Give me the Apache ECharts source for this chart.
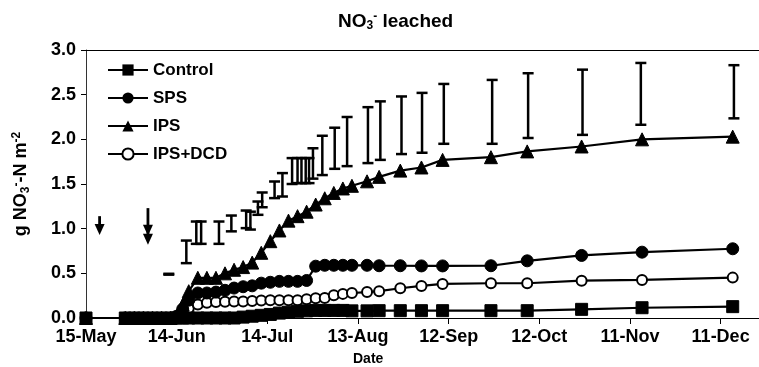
<!DOCTYPE html>
<html>
<head>
<meta charset="utf-8">
<script src="https://cdn.jsdelivr.net/npm/echarts@6/dist/echarts.min.js"></script>
<style>
html,body{margin:0;padding:0;background:#fff;}
#chart{width:759px;height:367px;}
</style>
</head>
<body>
<div id="chart"></div>
<script>
// Days after 15-May
const xTickLabels = ['15-May','14-Jun','14-Jul','13-Aug','12-Sep','12-Oct','11-Nov','11-Dec'];
const yTickLabels = ['0.0','0.5','1.0','1.5','2.0','2.5','3.0'];
const days = [0,13,16,19,22,25,28,30,32,34,37,40,43,46,49,52,55,58,61,64,67,70,73,76,79,82,85,88,93,97,104,111,118,134,146,164,184,214];
const control = [0,0,0,0,0,0,0,0,0,0,0,0,0,0,0,0.01,0.02,0.03,0.04,0.055,0.065,0.075,0.08,0.085,0.085,0.085,0.085,0.08,0.08,0.082,0.082,0.082,0.082,0.082,0.082,0.097,0.115,0.127];
const sps = [0,0,0,0,0,0,0,0.02,0.1,0.2,0.28,0.28,0.29,0.31,0.335,0.35,0.36,0.39,0.40,0.41,0.41,0.41,0.42,0.58,0.59,0.59,0.59,0.59,0.59,0.585,0.585,0.583,0.583,0.585,0.64,0.70,0.737,0.775];
const ips = [0,0,0,0,0,0,0,0.02,0.15,0.3,0.45,0.45,0.45,0.50,0.54,0.57,0.62,0.73,0.86,0.98,1.09,1.14,1.19,1.27,1.34,1.40,1.45,1.48,1.53,1.58,1.65,1.685,1.77,1.80,1.865,1.92,2.0,2.03];
const ipsDcd = [0,0,0,0,0,0,0,0.01,0.06,0.11,0.15,0.17,0.18,0.183,0.185,0.185,0.19,0.195,0.20,0.20,0.20,0.20,0.21,0.22,0.225,0.255,0.27,0.28,0.29,0.30,0.333,0.359,0.381,0.389,0.389,0.418,0.426,0.452];
// floating error bars
const errDays = [27.4,33.2,36.5,38.1,44.0,48.1,53.0,54.4,56.9,58.3,62.4,65.0,68.2,70.0,71.3,72.7,73.8,75.1,78.2,82.3,86.4,93.3,97.4,104.4,111.2,118.4,134.4,146.3,164.3,183.6,214.4];
const errLow  = [0.485,0.614,0.83,0.83,0.83,0.97,1.006,0.99,1.155,1.24,1.342,1.36,1.50,1.51,1.51,1.51,1.51,1.56,1.60,1.67,1.70,1.734,1.77,1.835,1.85,1.95,1.95,2.015,2.05,2.163,2.235];
const errHigh = [0.495,0.867,1.08,1.08,1.08,1.147,1.203,1.19,1.304,1.405,1.528,1.622,1.79,1.79,1.79,1.79,1.79,1.90,2.04,2.13,2.25,2.36,2.425,2.48,2.52,2.62,2.665,2.74,2.78,2.855,2.83];
// application arrows
const arrowDays = [4.5, 20.5];
const arrowTop = [1.14, 1.23];
const arrowTip = [0.93, 0.82];
const arrowHeads = [1, 2];

const FONT = '"Liberation Sans", Arial, sans-serif';
const pairs = vals => days.map((d, i) => [d, vals[i]]);

const chart = echarts.init(document.getElementById('chart'), null, {renderer: 'canvas'});
const lineBase = {type: 'line', lineStyle: {color: '#000', width: 2.2}, itemStyle: {color: '#000', borderColor: '#000'}, showAllSymbol: true, animation: false};
const richSS = {
  sub: {fontFamily: FONT, fontSize: 12, fontWeight: 'bold', verticalAlign: 'bottom', padding: [9,0,0,0]},
  sup: {fontFamily: FONT, fontSize: 12, fontWeight: 'bold', verticalAlign: 'top', padding: [0,0,9,0]}
};

chart.setOption({
  animation: false,
  backgroundColor: '#fff',
  title: {
    text: 'NO{sub|3}{sup|-} leached',
    left: 338, top: 11, padding: 0,
    textStyle: {fontFamily: FONT, fontSize: 19, fontWeight: 'bold', color: '#000', rich: richSS}
  },
  legend: {
    orient: 'vertical', left: 107, top: 61, padding: 0,
    itemWidth: 40, itemHeight: 14, itemGap: 10,
    textStyle: {fontFamily: FONT, fontSize: 17, fontWeight: 'bold', color: '#000', lineHeight: 18},
    data: ['Control', 'SPS', 'IPS', 'IPS+DCD']
  },
  grid: {left: 86, right: 0, top: 50, bottom: 49, containLabel: false},
  xAxis: [{
    type: 'value', min: 0, max: 222.7, interval: 30,
    axisLine: {show: true, onZero: false, lineStyle: {color: '#000', width: 1.2}},
    axisTick: {show: true, inside: false, length: 6, lineStyle: {color: '#000'}},
    splitLine: {show: false},
    axisLabel: {
      margin: 10, showMaxLabel: false,
      fontFamily: FONT, fontSize: 18, fontWeight: 'bold', color: '#000',
      formatter: v => { const k = Math.round(v / 30); return Math.abs(v - k * 30) < 1e-6 && xTickLabels[k] ? xTickLabels[k] : ''; }
    }
  }, {
    type: 'value', position: 'top', min: 0, max: 222.7,
    axisLine: {show: true, onZero: false, lineStyle: {color: '#000', width: 1.2}},
    axisTick: {show: false}, axisLabel: {show: false}, splitLine: {show: false}
  }],
  yAxis: {
    type: 'value', min: 0, max: 3, interval: 0.5,
    axisLine: {show: true, lineStyle: {color: '#333', width: 1}},
    axisTick: {show: true, inside: false, length: 5, lineStyle: {color: '#000'}},
    splitLine: {show: false},
    axisLabel: {
      margin: 10, fontFamily: FONT, fontSize: 18, fontWeight: 'bold', color: '#000',
      formatter: v => yTickLabels[Math.round(v / 0.5)] || ''
    },
    name: 'g NO{sub|3}{sup|-}-N m{sup|-2}',
    nameLocation: 'middle', nameGap: 54, nameRotate: 90,
    nameTextStyle: {fontFamily: FONT, fontSize: 18, fontWeight: 'bold', color: '#000', rich: richSS}
  },
  graphic: [{
    type: 'text', left: 353, top: 352,
    style: {text: 'Date', fontFamily: FONT, fontSize: 14, fontWeight: 'bold', fill: '#000'}
  }],
  series: [
    {
      type: 'custom', name: 'err', z: 2, silent: true,
      data: errDays.map((d, i) => [d, errLow[i], errHigh[i]]),
      encode: {x: 0, y: [1, 2]},
      renderItem: (params, api) => {
        const x = api.value(0);
        const pLo = api.coord([x, api.value(1)]);
        const pHi = api.coord([x, api.value(2)]);
        const w = 5.5;
        const st = {stroke: '#000', lineWidth: 2.5};
        return {type: 'group', children: [
          {type: 'line', shape: {x1: pLo[0], y1: pLo[1], x2: pHi[0], y2: pHi[1]}, style: st},
          {type: 'line', shape: {x1: pLo[0] - w, y1: pLo[1], x2: pLo[0] + w, y2: pLo[1]}, style: st},
          {type: 'line', shape: {x1: pHi[0] - w, y1: pHi[1], x2: pHi[0] + w, y2: pHi[1]}, style: st}
        ]};
      }
    },
    {
      type: 'custom', name: 'arrows', z: 2, silent: true,
      data: arrowDays.map((d, i) => [d, arrowTop[i], arrowTip[i], arrowHeads[i]]),
      encode: {x: 0, y: [1, 2]},
      renderItem: (params, api) => {
        const x = api.value(0);
        const pTop = api.coord([x, api.value(1)]);
        const pTip = api.coord([x, api.value(2)]);
        const n = api.value(3);
        const hw = 5, hh = 11;
        const children = [{type: 'line', shape: {x1: pTop[0], y1: pTop[1], x2: pTip[0], y2: pTip[1] - hh + 2}, style: {stroke: '#000', lineWidth: 2.8}}];
        for (let k = 0; k < n; k++) {
          const ty = pTip[1] - k * 9;
          children.push({type: 'polygon', shape: {points: [[pTip[0] - hw, ty - hh], [pTip[0] + hw, ty - hh], [pTip[0], ty]]}, style: {fill: '#000'}});
        }
        return {type: 'group', children};
      }
    },
    Object.assign({}, lineBase, {name: 'IPS+DCD', z: 3, symbol: 'emptyCircle', symbolSize: 10, itemStyle: {color: '#000', borderColor: '#000', borderWidth: 2}, data: pairs(ipsDcd)}),
    Object.assign({}, lineBase, {name: 'IPS', z: 4, symbol: 'triangle', symbolSize: 13, data: pairs(ips)}),
    Object.assign({}, lineBase, {name: 'SPS', z: 5, symbol: 'circle', symbolSize: 12, data: pairs(sps)}),
    Object.assign({}, lineBase, {name: 'Control', z: 6, symbol: 'rect', symbolSize: 12, data: pairs(control)})
  ]
});
</script>
</body>
</html>
